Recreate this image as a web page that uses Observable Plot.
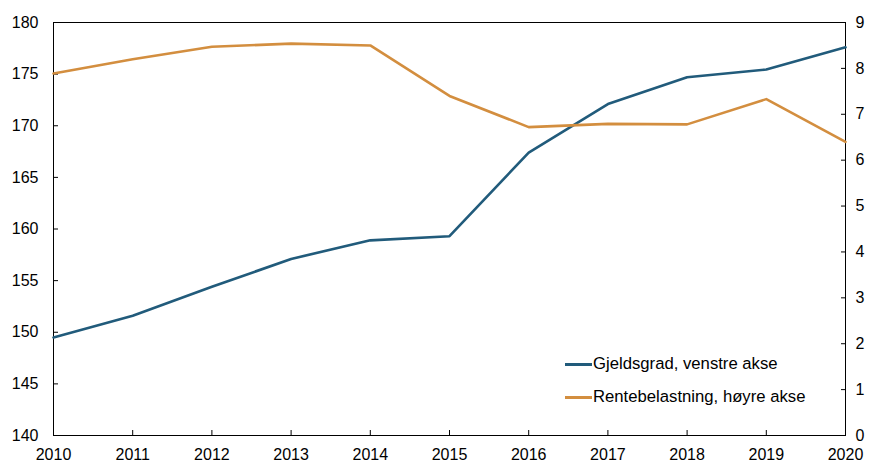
<!DOCTYPE html>
<html><head><meta charset="utf-8">
<script src="https://cdn.jsdelivr.net/npm/d3@7"></script>
<script src="https://cdn.jsdelivr.net/npm/@observablehq/plot@0.6"></script>
<style>
body{margin:0;background:#fff;font-family:"Liberation Sans",Arial,sans-serif}
#wrap{position:relative;width:870px;height:463px}
.leg{position:absolute;left:565px;display:flex;align-items:center;font-size:16.7px;color:#000;white-space:nowrap}
.leg span.sw{display:inline-block;width:27px;height:3px;margin-right:1px}
</style></head><body>
<div id="wrap"></div>
<script>
const years = [2010, 2011, 2012, 2013, 2014, 2015, 2016, 2017, 2018, 2019, 2020];
const gjeldsgrad = [149.5, 151.6, 154.4, 157.1, 158.9, 159.3, 167.4, 172.1, 174.7, 175.45, 177.6];
const rentebelastning = [7.89, 8.2, 8.47, 8.54, 8.5, 7.4, 6.72, 6.79, 6.78, 7.33, 6.4];
const leftTicks = [140, 145, 150, 155, 160, 165, 170, 175, 180];
const rightTicks = [0, 1, 2, 3, 4, 5, 6, 7, 8, 9];
const seriesNames = ["Gjeldsgrad, venstre akse", "Rentebelastning, høyre akse"];
const colors = ["#215b7b", "#d38e3f"];

const toLeft = v => 140 + v * 40 / 9;
const gData = years.map((y, i) => ({year: y, v: gjeldsgrad[i]}));
const rData = years.map((y, i) => ({year: y, v: toLeft(rentebelastning[i])}));
const rightTickPos = rightTicks.map(toLeft);

const chart = Plot.plot({
  width: 870, height: 463,
  marginLeft: 53, marginRight: 25, marginTop: 22, marginBottom: 28,
  style: {fontFamily: '"Liberation Sans", Arial, sans-serif', fontSize: "16px", color: "#000", background: "#fff"},
  x: {domain: [2010, 2020], label: null},
  y: {domain: [140, 180], label: null},
  marks: [
    Plot.frame({stroke: "#000", strokeWidth: 1}),
    Plot.axisX(years, {tickSize: -5, tickFormat: () => "", stroke: "#000", label: null}),
    Plot.axisX(years, {tickSize: 0, tickPadding: 13, tickFormat: d => String(d), fill: "#000", label: null}),
    Plot.axisY(leftTicks, {tickSize: -5, tickFormat: () => "", stroke: "#000", label: null}),
    Plot.axisY(leftTicks, {tickSize: 0, tickPadding: 15, tickFormat: d => String(d), fill: "#000", label: null}),
    Plot.axisY(rightTickPos, {anchor: "right", tickSize: -5, tickFormat: () => "", stroke: "#000", label: null}),
    Plot.axisY(rightTickPos, {anchor: "right", tickSize: 0, tickPadding: 10, tickFormat: d => String(Math.round((d - 140) * 9 / 40)), fill: "#000", label: null}),
    Plot.line(gData, {x: "year", y: "v", stroke: colors[0], strokeWidth: 2.6}),
    Plot.line(rData, {x: "year", y: "v", stroke: colors[1], strokeWidth: 2.6})
  ]
});
const wrap = document.getElementById("wrap");
wrap.appendChild(chart);
[364, 397].forEach((cy, i) => {
  const d = document.createElement("div");
  d.className = "leg";
  d.style.top = (cy - 10) + "px";
  d.style.height = "20px";
  d.innerHTML = `<span class="sw" style="background:${colors[i]}"></span><span>${seriesNames[i]}</span>`;
  wrap.appendChild(d);
});
</script>
</body></html>
